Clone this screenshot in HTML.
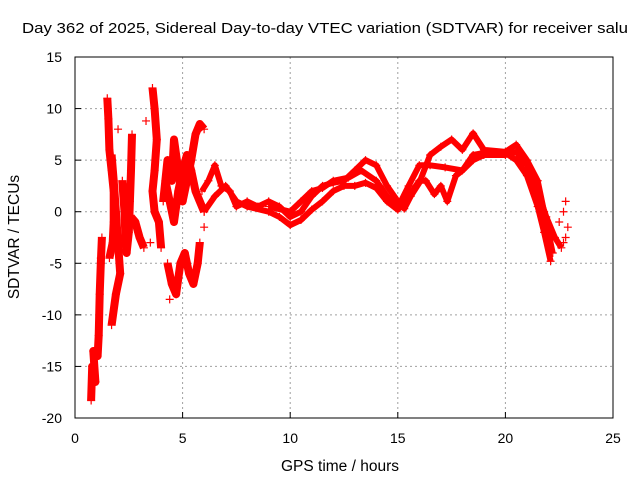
<!DOCTYPE html>
<html><head><meta charset="utf-8"><style>
body{margin:0;background:#fff;}
svg text{font-family:"Liberation Sans",sans-serif;font-size:14px;fill:#000;}
</style></head><body>
<svg id="chart" width="640" height="480" xmlns="http://www.w3.org/2000/svg">
<text x="22" y="33" textLength="606" lengthAdjust="spacingAndGlyphs" style="font-size:15px">Day 362 of 2025, Sidereal Day-to-day VTEC variation (SDTVAR) for receiver salu</text>
<text x="340" y="471" text-anchor="middle" style="font-size:15.5px">GPS time / hours</text>
<text transform="translate(19,237) rotate(-90)" text-anchor="middle" style="font-size:15.5px">SDTVAR / TECUs</text>
<g id="grid"></g>
<g id="ticks"></g>
<g id="marks"></g>
<rect x="75" y="57" width="538" height="361" fill="none" stroke="#000" stroke-width="1"/>
</svg>
<script>
const xTicks=[0,5,10,15,20,25];
const yTicks=[15,10,5,0,-5,-10,-15,-20];
const tr1x=[0.75,0.8,0.95,0.85,1.05,1.1,1.15,1.2,1.25];
const tr1y=[-18.3,-15,-16.5,-13.5,-14,-12,-8,-5,-2.5];
const tr2x=[1.5,1.55,1.6,1.7,1.8,1.8,1.75,1.6];
const tr2y=[11,9,6,4,2,-1,-3,-4.5];
const tr3x=[1.7,1.8,1.9,2.0,2.1,1.9,1.7];
const tr3y=[5.5,3,0,-3,-6,-8,-11];
const tr4x=[2.2,2.3,2.35,2.4,2.5,2.55,2.6,2.65];
const tr4y=[3,0,-3,-4,-2,1,4,7.5];
const tr5x=[2.6,2.8,3.0,3.2];
const tr5y=[-0.5,-1,-2.5,-3.5];
const tr6x=[3.6,3.7,3.8,3.7,3.6,3.7,3.9,4.0];
const tr6y=[12,10,7,4,2,0,-1,-3.5];
const tr7x=[4.1,4.3,4.5,4.6,4.8,5.0,5.2,5.4,5.6,5.8,6.0];
const tr7y=[1,5,3,7,4,1,3,5,7.5,8.5,8];
const tr8x=[4.2,4.4,4.6,4.8,5.0,5.2,5.4,5.6,5.8,6.0];
const tr8y=[3,1,-1,2,4,5.5,4,2,1,0];
const tr9x=[4.3,4.5,4.7,4.9,5.1,5.3,5.5,5.7,5.8];
const tr9y=[-5,-7,-8,-5,-4,-6,-7,-5,-3];
const tr10x=[5.9,6.2,6.5,6.8,7.2,7.5,8,8.5,9,9.5,10,10.5,11,11.5,12,12.5,13,13.5,14,14.5,15,15.3,15.6,16,16.5,17,17.5,18,18.5,19,20,20.5,21,21.5,21.8,22,22.2];
const tr10y=[2,3,4.5,2.5,2,0.5,1,0.5,1,0.5,-0.5,0,1.5,2.5,2.8,3,4,5,4.5,2.5,1,0.3,1.5,2.8,5.5,6.3,7,6,7.6,6,5.8,6.5,5,3,0,-2,-4];
const tr11x=[6,6.5,7,7.5,8,9,9.5,10,10.5,11,11.5,12,12.5,13,13.5,14,14.5,15,15.5,16,16.3,16.7,17,17.3,17.7,18,18.5,19,20,20.5,21,21.5,21.8,22.1];
const tr11y=[0,1.5,2.5,1,0.5,0,-0.5,-1.3,-0.8,0.2,1,2,2.5,2.5,2.8,2.3,1,0.2,1.5,3,3,1.7,2.5,1,3.5,4,5.5,5.7,5.7,5,3.5,0.5,-2,-4.8];
const tr12x=[9,10,10.5,11,11.5,12,12.7,13.3,14,14.5,15,15.5,16,16.5,17.2,18,18.5,19,20,20.5,21,21.5,21.9,22.3,22.6];
const tr12y=[0.5,0,1,2,2.3,3,3.3,4,3,1.5,0.4,2.5,4.5,4.5,4.3,4,5,5.5,5.5,5.8,4.5,2,-0.5,-2.5,-3.5];
const tr13x=[22.5,22.7,22.8,22.9,22.7,22.8,1.2,2.0,3.3,3.5,4.4,6.0];
const tr13y=[-1,0,1,-1.5,-3,-2.5,-4.5,8,8.8,-3,-8.5,-1.5];
const seriesX=[tr1x,tr2x,tr3x,tr4x,tr5x,tr6x,tr7x,tr8x,tr9x,tr10x,tr11x,tr12x,tr13x];
const seriesY=[tr1y,tr2y,tr3y,tr4y,tr5y,tr6y,tr7y,tr8y,tr9y,tr10y,tr11y,tr12y,tr13y];
const NS='http://www.w3.org/2000/svg';
function sx(v){return 75+(v-0)/25*538;}
function sy(v){return 418-(v+20)/35*361;}
const grid=document.getElementById('grid'),ticks=document.getElementById('ticks'),marks=document.getElementById('marks');
xTicks.forEach(t=>{
  const x=sx(t);
  if(t>0&&t<25){const l=document.createElementNS(NS,'line');
  
  
  l.setAttribute('x1',x);l.setAttribute('x2',x);l.setAttribute('y1',57);l.setAttribute('y2',418);
  l.setAttribute('stroke','#a0a0a0');l.setAttribute('stroke-dasharray','2,3');grid.appendChild(l);}
  const k=document.createElementNS(NS,'line');
  
  
  k.setAttribute('x1',x);k.setAttribute('x2',x);k.setAttribute('y1',418);k.setAttribute('y2',412);k.setAttribute('stroke','#000');grid.appendChild(k);
  const tx=document.createElementNS(NS,'text');
  
  
  tx.setAttribute('x',x);tx.setAttribute('y',443);tx.setAttribute('text-anchor','middle');tx.textContent=t;ticks.appendChild(tx);
});
yTicks.forEach(t=>{
  const y=sy(t);
  if(t>-20&&t<15){const l=document.createElementNS(NS,'line');
  
  
  l.setAttribute('x1',75);l.setAttribute('x2',613);l.setAttribute('y1',y);l.setAttribute('y2',y);
  l.setAttribute('stroke','#a0a0a0');l.setAttribute('stroke-dasharray','2,3');grid.appendChild(l);}
  const k=document.createElementNS(NS,'line');
  
  
  k.setAttribute('x1',75);k.setAttribute('x2',81);k.setAttribute('y1',y);k.setAttribute('y2',y);k.setAttribute('stroke','#000');grid.appendChild(k);
  const tx=document.createElementNS(NS,'text');
  
  
  tx.setAttribute('x',62);tx.setAttribute('y',y+5);tx.setAttribute('text-anchor','end');tx.textContent=t;ticks.appendChild(tx);
});
seriesX.forEach((xs,i)=>{
  const ys=seriesY[i];
  const pts=xs.map((x,j)=>sx(x).toFixed(1)+','+sy(ys[j]).toFixed(1)).join(' ');
  const pl=document.createElementNS(NS,'polyline');
  
  
  pl.setAttribute('points',pts);pl.setAttribute('fill','none');pl.setAttribute('stroke','#f00');
  pl.setAttribute('stroke-width', i===12?0:(i<9?8:6));pl.setAttribute('stroke-linejoin','round');
  marks.appendChild(pl);
  xs.forEach((x,j)=>{
    const px=sx(x),py=sy(ys[j]);
    const p=document.createElementNS(NS,'path');
    
    
    p.setAttribute('d',`M${px-4},${py}h8M${px},${py-4}v8`);
    p.setAttribute('stroke','#f00');p.setAttribute('stroke-width','1.2');
    marks.appendChild(p);
  });
});
</script>
</body></html>
